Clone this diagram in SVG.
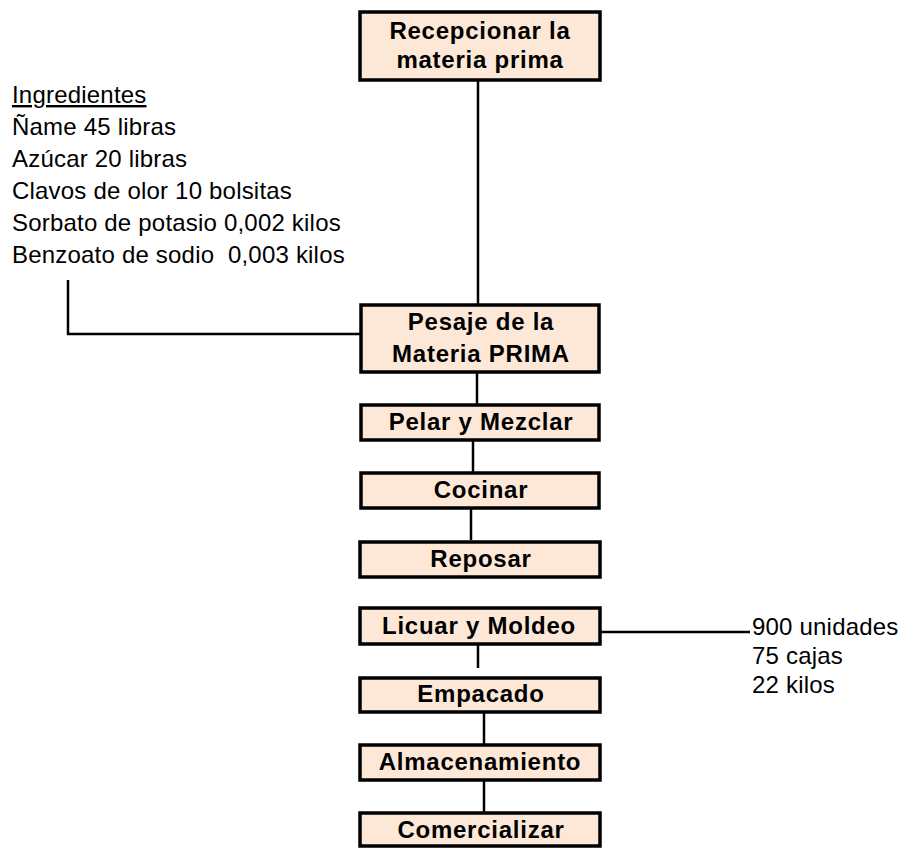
<svg xmlns="http://www.w3.org/2000/svg" width="903" height="848" viewBox="0 0 903 848">
<style>
.box{fill:#FDE8D8;stroke:#000;stroke-width:3.5}
.bt{font-family:"Liberation Sans",Arial,sans-serif;font-weight:bold;font-size:24px;letter-spacing:0.75px;text-anchor:middle;fill:#000}
.t{font-family:"Liberation Sans",Arial,sans-serif;font-size:24px;letter-spacing:0.2px;fill:#000}
.c{stroke:#000;stroke-width:2.5;fill:none}
</style>
<rect width="903" height="848" fill="#fff"/>
<g id="connectors">
<line class="c" x1="478" y1="80" x2="478" y2="305"/>
<polyline class="c" points="68,280 68,334 360,334"/>
<line class="c" x1="477" y1="372" x2="477" y2="405"/>
<line class="c" x1="473" y1="440" x2="473" y2="473"/>
<line class="c" x1="471" y1="508" x2="471" y2="540"/>
<line class="c" x1="478" y1="644" x2="478" y2="668"/>
<line class="c" x1="484" y1="712" x2="484" y2="745"/>
<line class="c" x1="484" y1="780" x2="484" y2="813"/>
<line class="c" x1="600" y1="632" x2="750" y2="632"/>
</g>
<g id="n-recepcionar">
<rect class="box" x="360" y="12" width="240" height="68"/>
<text class="bt" x="480" y="39">Recepcionar la</text>
<text class="bt" x="480" y="68">materia prima</text>
</g>
<g id="n-pesaje">
<rect class="box" x="361" y="305" width="238" height="67"/>
<text class="bt" x="481" y="330">Pesaje de la</text>
<text class="bt" x="481" y="362">Materia PRIMA</text>
</g>
<g id="n-pelar">
<rect class="box" x="361" y="405" width="238" height="35"/>
<text class="bt" x="481" y="430">Pelar y Mezclar</text>
</g>
<g id="n-cocinar">
<rect class="box" x="361" y="473" width="238" height="35"/>
<text class="bt" x="481" y="498">Cocinar</text>
</g>
<g id="n-reposar">
<rect class="box" x="360" y="542" width="240" height="35"/>
<text class="bt" x="481" y="567">Reposar</text>
</g>
<g id="n-licuar">
<rect class="box" x="360" y="608" width="240" height="36"/>
<text class="bt" x="479" y="634">Licuar y Moldeo</text>
</g>
<g id="n-empacado">
<rect class="box" x="360" y="678" width="240" height="34"/>
<text class="bt" x="481" y="702">Empacado</text>
</g>
<g id="n-almacenamiento">
<rect class="box" x="360" y="745" width="240" height="35"/>
<text class="bt" x="480" y="770">Almacenamiento</text>
</g>
<g id="n-comercializar">
<rect class="box" x="360" y="813" width="240" height="33"/>
<text class="bt" x="481" y="838">Comercializar</text>
</g>
<g id="ingredientes">
<text class="t" x="12" y="103" text-decoration="underline">Ingredientes</text>
<text class="t" x="12" y="135">Ñame 45 libras</text>
<text class="t" x="12" y="167">Azúcar 20 libras</text>
<text class="t" x="12" y="199">Clavos de olor 10 bolsitas</text>
<text class="t" x="12" y="231">Sorbato de potasio 0,002 kilos</text>
<text class="t" x="12" y="263" xml:space="preserve">Benzoato de sodio  0,003 kilos</text>
</g>
<g id="salida">
<text class="t" x="752" y="635">900 unidades</text>
<text class="t" x="752" y="664">75 cajas</text>
<text class="t" x="752" y="693">22 kilos</text>
</g>
</svg>
